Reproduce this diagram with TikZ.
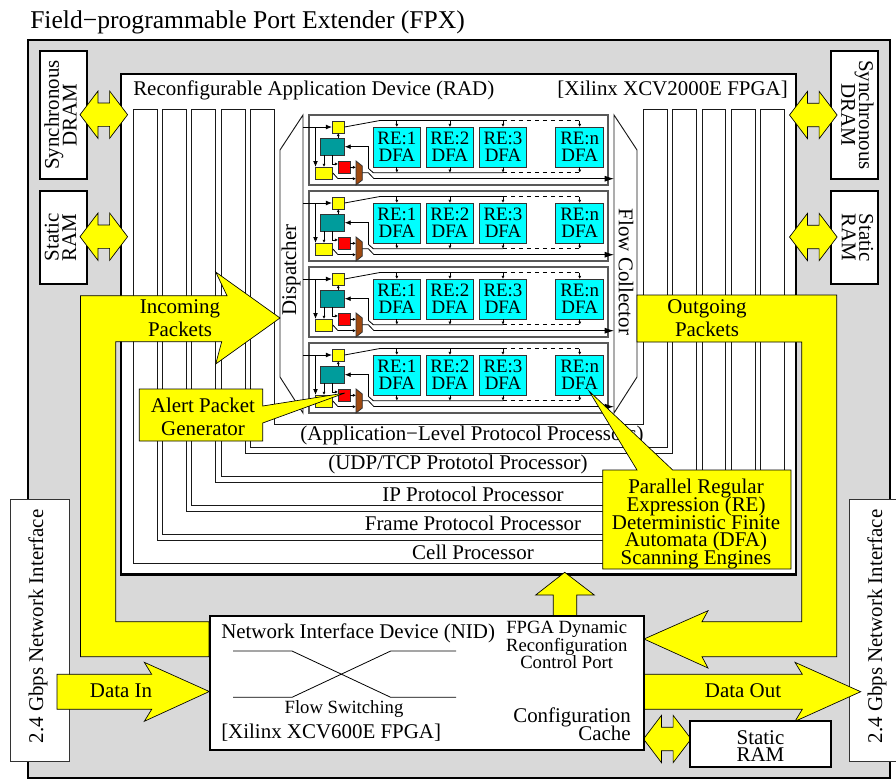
\documentclass[tikz,border=0pt]{standalone}
\usepackage{fontspec}
\setmainfont{Liberation Serif}
\usepackage{xcolor}
\usetikzlibrary{arrows.meta,positioning}
\definecolor{PortGray}{HTML}{D9D9D9}
\definecolor{PortYellow}{HTML}{FFFF00}
\definecolor{DfaCyan}{HTML}{00FFFF}
\definecolor{CoreTeal}{HTML}{009C9C}
\definecolor{AlertRed}{HTML}{FF0000}
\definecolor{MuxBrown}{HTML}{A04A10}
\newcommand{\tightlines}{\lineskiplimit=-20pt\relax}

\begin{document}
\begin{tikzpicture}[
    x=0.75pt, y=-0.75pt,
    node distance=4pt,
    txt/.style={inner sep=0pt, align=center, font=\fontsize{15.7}{13.2}\selectfont\tightlines},
    loose/.style={inner sep=0pt, align=center, font=\fontsize{15.7}{17}\selectfont},
    small/.style={inner sep=0pt, align=center, font=\fontsize{14}{13}\selectfont\tightlines},
    hull/.style={draw=black, line width=1.6pt, fill=PortGray, outer sep=0pt},
    chip/.style={draw=black, line width=1.5pt, fill=white, outer sep=0pt, inner sep=0pt},
    netbox/.style={draw=black!80, line width=0.6pt, fill=white, outer sep=0pt},
    proc/.style={draw=black!90, line width=0.7pt},
    rowbox/.style={draw=black!65, line width=0.9pt, fill=white, outer sep=0pt,
      minimum width=224.25pt, minimum height=52.5pt},
    dfa/.style={draw=black!80, line width=0.6pt, fill=DfaCyan, inner sep=0pt, outer sep=0pt,
      minimum width=35.8pt, minimum height=30pt, align=center,
      font=\fontsize{14.2}{12.8}\selectfont\tightlines},
    unit/.style={draw=black!80, line width=0.6pt, inner sep=0pt, outer sep=0pt},
    pipe/.style={draw=black, line width=0.5pt, fill=PortYellow},
    wire/.style={draw=black, line width=0.6pt},
    tick/.style={wire, -{Latex[length=2.4pt,width=2.4pt]}},
    flow/.style={wire, -{Latex[length=4.5pt,width=3.6pt]}},
    exit/.style={wire, -{Latex[length=7pt,width=4.5pt]}}
  ]
    \useasboundingbox (0,0) rectangle (896,779);
    \node[hull, minimum width=646.5pt, minimum height=553.5pt] (fpx) at (459,409) {};
    \node[inner sep=0pt, anchor=base west, font=\fontsize{19.2}{21}\selectfont] (title) at (30,28) {Field−programmable Port Extender (FPX)};
    \node[chip, rotate=90, minimum width=96pt, minimum height=35.25pt] (sdraml) at (63.5,115) {};
    \node[chip, rotate=90, minimum width=69.75pt, minimum height=35.25pt] (sraml) at (63.5,237.5) {};
    \node[chip, rotate=-90, minimum width=96pt, minimum height=35.25pt] (sdramr) at (854.5,115) {};
    \node[chip, rotate=-90, minimum width=69.75pt, minimum height=35.25pt] (sramr) at (854.5,237.5) {};
    \node[txt, rotate=90] (sdramlname) at (60.5,115) {Synchronous\\DRAM};
    \node[txt, rotate=90] (sramlname) at (60.5,237.5) {Static\\RAM};
    \node[txt, rotate=-90] (sdramrname) at (857.5,115) {Synchronous\\DRAM};
    \node[txt, rotate=-90] (sramrname) at (857.5,237.5) {Static\\RAM};
    \node[draw=black, line width=1.8pt, fill=white, outer sep=0pt, minimum width=506.25pt, minimum height=375.4pt] (rad) at (458.5,324.25) {};
    \node[txt, anchor=base west] (radname) at (133,95) {Reconfigurable Application Device (RAD)};
    \node[txt, anchor=base east] (radpart) at (788,95) {[Xilinx XCV2000E FPGA]};
    \foreach \xa/\xb/\xc/\xd/\ya/\yb in {133/157/760/784/540/563, 162/186/731/755/511/534, 191.5/215/702/725.5/482/505, 221/245/672.5/696/453/476, 250/274/643/667/424/447}
      \draw[proc] (\xa,109) -- (\xb,109) -- (\xb,\ya) -- (\xc,\ya) -- (\xc,109) -- (\xd,109) -- (\xd,\yb) -- (\xa,\yb) -- cycle;
    \node[txt] (lblapp) at (472,435) {(Application−Level Protocol Processors)};
    \node[txt] (lbludp) at (458,464) {(UDP/TCP Prototol Processor)};
    \node[txt] (lblip) at (473,494) {IP Protocol Processor};
    \node[txt] (lblframe) at (473,523) {Frame Protocol Processor};
    \node[txt] (lblcell) at (473,552) {Cell Processor};
    \draw[proc, fill=white] (303,115) -- (280,150) -- (280,377) -- (303,413) -- cycle;
    \draw[proc, fill=white] (614,115) -- (637,150) -- (637,377) -- (614,413) -- cycle;
    \node[txt, rotate=90] (dispatcher) at (291,270) {Dispatcher};
    \node[txt, rotate=-90] (collector) at (626,272) {Flow Collector};
    \foreach \r/\ytop in {1/115, 2/191, 3/267, 4/343} {
      \begin{scope}[shift={(0,\ytop)}, name prefix=r\r-]
        \node[rowbox] (frame) at (458.5,35) {};
        \node[dfa] (dfa1) at (396.85,32) {RE:1\\DFA};
        \node[dfa, right=of dfa1] (dfa2) {RE:2\\DFA};
        \node[dfa, right=of dfa2] (dfa3) {RE:3\\DFA};
        \node[dfa, right=21.75pt of dfa3] (dfan) {RE:n\\DFA};
        \node[unit, fill=PortYellow, minimum width=9.4pt, minimum height=9pt] (ctl) at (338.25,12) {};
        \node[unit, fill=CoreTeal, minimum width=18pt, minimum height=13pt] (core) at (332.7,31.7) {};
        \node[unit, fill=PortYellow, minimum width=13.3pt, minimum height=9pt] (buf) at (324,58) {};
        \node[unit, fill=AlertRed, minimum width=9pt, minimum height=8.5pt] (gen) at (344,52.3) {};
        \draw[unit, fill=MuxBrown] (356,46) -- (362.3,51) -- (362.3,65) -- (356,70) -- cycle;
        \coordinate (muxa) at (356,52.3);
        \coordinate (muxb) at (356,63.7);
        \coordinate (muxo) at (362.3,57.7);
        \coordinate (inlet) at (303,12);
        \coordinate (tap) at (315.5,12);
        \coordinate (rail) at (380,5.5);
        \coordinate (sink) at (373.3,57.7);
        \coordinate (bend) at (368.3,53.3);
        \coordinate (turn) at (368.3,57.7);
        \coordinate (lead) at (374,63.7);
        \coordinate (outlet) at (614,63.7);
        \coordinate (knee) at (338,63.7);
        \draw[flow] (inlet) -- (ctl.west);
        \draw[flow] (tap) -- (tap |- buf.north);
        \draw[wire] (ctl.east) -- (rail) -- (rail -| dfa3);
        \draw[wire, dashed] (rail -| dfa3) -- (rail -| dfan);
        \draw[wire] (sink -| dfa3) -- (sink) -- (bend);
        \draw[wire, dashed] (sink -| dfa3) -- (sink -| dfan);
        \draw[flow] (bend) |- (core.east);
        \draw[wire] (muxo) -- (turn) -- (lead);
        \draw[exit] (lead) -- (outlet);
        \foreach \d in {dfa1,dfa2,dfa3,dfan} {
          \draw[tick] (rail -| \d) -- (\d.north);
          \draw[tick] (\d.south) -- (sink -| \d);
        }
        \draw[tick] (core.north -| ctl) -- (ctl.south);
        \draw[tick] (core.south -| buf) -- (buf.north);
        \draw[tick] (core.south) |- ([yshift=2.5pt]gen.west);
        \draw[tick] (gen.east) -- (muxa);
        \draw[wire] (buf.east) -- (knee);
        \draw[tick] (knee) -- (muxb);
      \end{scope}
    }
    \foreach \cx/\cy in {103.8/114.7, 103.8/236.7, 813.3/115, 813.3/237, 667.3/739} {
      \draw[pipe] (\cx-23.8,\cy) -- (\cx-5.8,\cy-23.7) -- (\cx-5.8,\cy-11.7) -- (\cx+5.8,\cy-11.7) -- (\cx+5.8,\cy-23.7)
        -- (\cx+23.8,\cy) -- (\cx+5.8,\cy+23.7) -- (\cx+5.8,\cy+11.7) -- (\cx-5.8,\cy+11.7) -- (\cx-5.8,\cy+23.7) -- cycle;
    }
    \draw[pipe] (280,318) -- (215.7,364) -- (221.7,341.7) -- (115.7,341.7) -- (115.7,621.7) -- (209,621.7) -- (209,656.7)
      -- (80.5,656.7) -- (80.5,295.7) -- (227,295.7) -- (215.7,272) -- cycle;
    \draw[pipe] (637,295) -- (836.7,295) -- (836.7,656.7) -- (702,656.7) -- (708,668) -- (644,639) -- (708,610.7)
      -- (702,621.7) -- (801.7,621.7) -- (801.7,342) -- (637,342) -- cycle;
    \draw[pipe] (564.7,572.3) -- (594.3,595) -- (576.7,595) -- (576.7,618) -- (553.3,618) -- (553.3,595) -- (535.7,595) -- cycle;
    \node[loose] (incoming) at (180,318) {Incoming\\Packets};
    \node[loose] (outgoing) at (707,318) {Outgoing\\Packets};
    \node[netbox, rotate=90, minimum width=196.5pt, minimum height=44.25pt] (netl) at (39.5,630.5) {};
    \node[netbox, rotate=90, minimum width=196.5pt, minimum height=37.5pt] (netr) at (874,630.5) {};
    \node[txt, rotate=90] (netlname) at (38,626.5) {2.4 Gbps Network Interface};
    \node[txt, rotate=90] (netrname) at (877,626.5) {2.4 Gbps Network Interface};
    \draw[pipe] (57,674.3) -- (151.7,674.3) -- (144.3,662.3) -- (209.3,691.5) -- (144.3,721.3) -- (151.7,709.3) -- (57,709.3) -- cycle;
    \draw[pipe] (643,674.3) -- (802.3,674.3) -- (795,662.3) -- (860.7,691.7) -- (795,721.3) -- (802.3,709.3) -- (643,709.3) -- cycle;
    \node[txt] (datain) at (121,691) {Data In};
    \node[txt] (dataout) at (743,691) {Data Out};
    \node[chip, minimum width=325.5pt, minimum height=100.5pt] (nid) at (426.5,683) {};
    \node[chip, minimum width=105.75pt, minimum height=34.5pt] (sramb) at (760.5,744) {};
    \node[txt] (srambname) at (760.5,746) {Static\\RAM};
    \node[txt, anchor=base west] (nidname) at (221,638) {Network Interface Device (NID)};
    \node[txt, anchor=base west] (nidpart) at (221,738) {[Xilinx XCV600E FPGA]};
    \node[small] (switching) at (344,709) {Flow Switching};
    \node[small] (dynport) at (566.7,645) {FPGA Dynamic\\Reconfiguration\\Control Port};
    \node[txt, align=right, anchor=east] (cache) at (631,724) {Configuration\\Cache};
    \coordinate (swa1) at (233,651);
    \coordinate (swa2) at (292,651);
    \coordinate (swa3) at (390.7,697.3);
    \coordinate (swa4) at (456,697.3);
    \coordinate (swb1) at (233,697.3);
    \coordinate (swb2) at (292,697.3);
    \coordinate (swb3) at (390.7,651);
    \coordinate (swb4) at (456,651);
    \draw[wire] (swa1) -- (swa2) -- (swa3) -- (swa4);
    \draw[wire] (swb1) -- (swb2) -- (swb3) -- (swb4);
    \draw[pipe] (139.3,389) -- (262.7,389) -- (262.7,406) -- (345,393) -- (262.7,423) -- (262.7,441) -- (139.3,441) -- cycle;
    \node[loose] (alert) at (203,417) {Alert Packet\\Generator};
    \draw[pipe] (602.7,470) -- (637,470) -- (589,391) -- (672.7,470) -- (791,470) -- (791,569) -- (602.7,569) -- cycle;
    \node[txt] (parallel) at (696,524) {Parallel Regular\\Expression (RE)\\Deterministic Finite\\Automata (DFA)\\Scanning Engines};
  \end{tikzpicture}
\end{document}
